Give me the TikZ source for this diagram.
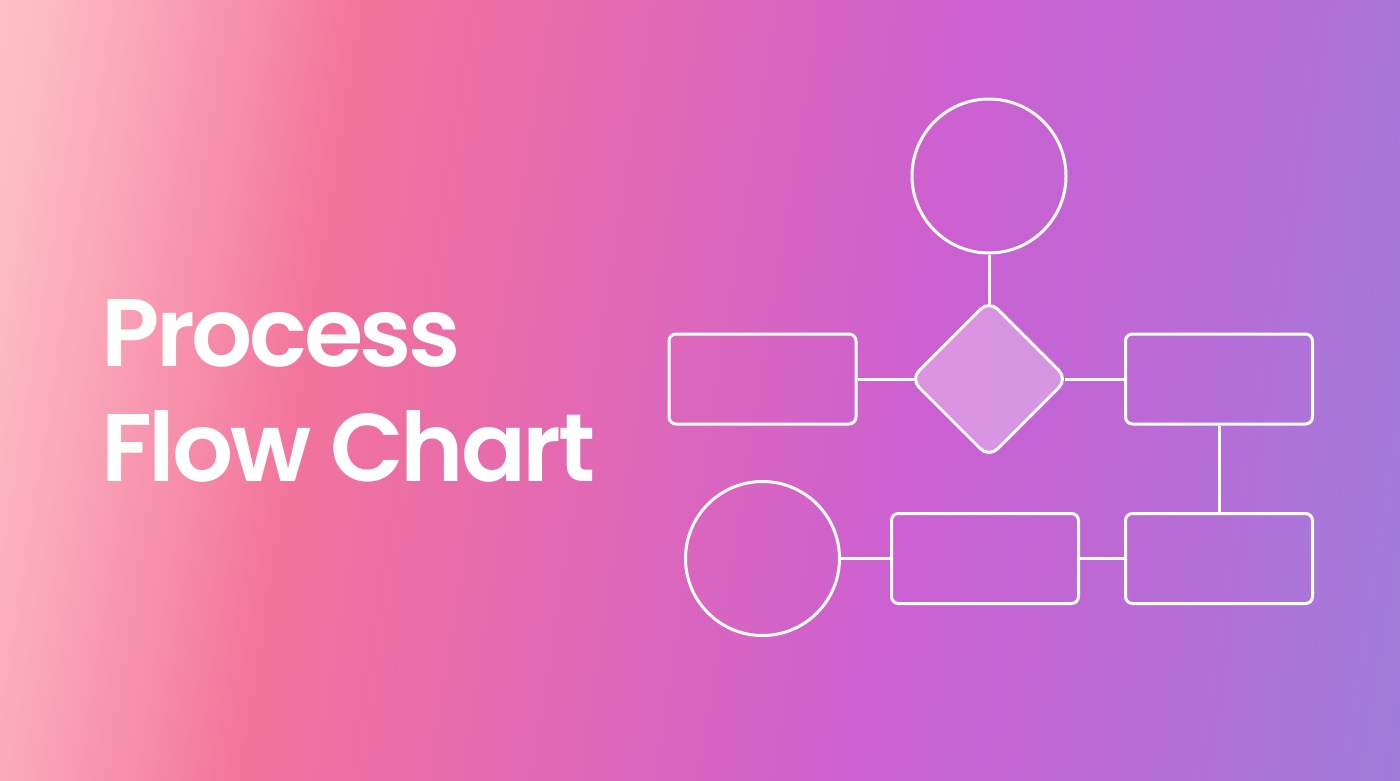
\documentclass[tikz,border=0pt]{standalone}
\usepackage{fontspec}
\setmainfont{Poppins}[BoldFont={Poppins SemiBold}, BoldFeatures={LetterSpace=-3.5}]
\usetikzlibrary{positioning, shapes.geometric}

\definecolor{bgA}{HTML}{FFD6D0}
\definecolor{bgB}{HTML}{FCBAC2}
\definecolor{bgC}{HTML}{F99DB2}
\definecolor{bgD}{HTML}{F2739B}
\definecolor{bgE}{HTML}{E068B6}
\definecolor{bgF}{HTML}{CB60D2}
\definecolor{bgG}{HTML}{B96BD6}
\definecolor{bgH}{HTML}{A37ADB}
\definecolor{bgI}{HTML}{9883DD}

\tikzset{
  link/.style={draw=white, line width=3pt},
  todiamond/.style={shorten >=-5pt},
  box/.style={rectangle, draw=white, line width=3pt, rounded corners=7pt,
    minimum width=187pt, minimum height=90pt, inner sep=0pt},
  terminal/.style={circle, draw=white, line width=3pt, minimum size=154pt, inner sep=0pt},
  decision/.style={diamond, aspect=1, draw=white, line width=3pt, rounded corners=12pt,
    fill=white, fill opacity=0.32, minimum size=158pt, inner sep=0pt},
  heading/.style={text=white, inner sep=0pt, anchor=base west,
    font=\fontsize{96}{115}\selectfont\bfseries}
}

\begin{document}
\begin{tikzpicture}[x=1pt, y=-1pt, on grid]
  \useasboundingbox (0,0) rectangle (1400,780);

  % background gradient
  \begin{scope}
    \clip (0,0) rectangle (1400,780);
    \begin{scope}[transform canvas={rotate around={-9:(700,390)}}]
      \foreach \xa/\ca/\xb/\cb in {-250/bgA/0/bgB, 0/bgB/130/bgC, 130/bgC/312/bgD,
          312/bgD/620/bgE, 620/bgE/930/bgF, 930/bgF/1180/bgG, 1180/bgG/1400/bgH,
          1400/bgH/1650/bgI}
        \shade[left color=\ca, right color=\cb] (\xa,-300) rectangle (\xb+1,1080);
    \end{scope}
  \end{scope}

  % title
  \node[heading] (head1) at (101,366) {Process};
  \node[heading] (head2) at (101,481) {Flow Chart};

  % chart
  \node[terminal] (start) at (989,176) {};
  \node[decision] (decide) [below=203pt of start] {};
  \node[box] (boxL) [left=226.5pt of decide] {};
  \node[box] (boxR) [right=230pt of decide] {};
  \node[box] (boxBR) [below=179.5pt of boxR] {};
  \node[box] (boxBM) [left=234pt of boxBR] {};
  \node[terminal] (stop) [left=222.5pt of boxBM] {};

  \path[link]
    (start.south) edge[todiamond] (decide.north)
    (boxL.east) edge[todiamond] (decide.west)
    (boxR.west) edge[todiamond] (decide.east)
    (boxR.south) edge (boxBR.north)
    (boxBR.west) edge (boxBM.east)
    (boxBM.west) edge (stop.east);
\end{tikzpicture}
\end{document}
